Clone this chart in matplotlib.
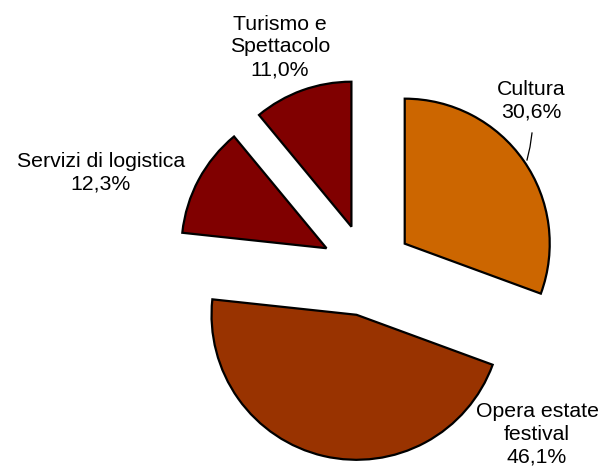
import matplotlib
matplotlib.use("Agg")
import matplotlib.pyplot as plt

# data
categories = ["Cultura", "Opera estate\nfestival", "Servizi di logistica", "Turismo e\nSpettacolo"]
shares = [30.6, 46.1, 12.3, 11.0]
colors = ["#CC6600", "#993300", "#800000", "#800000"]

# label anchor positions (pixel coords, y from top)
label_pos = [(531, 101), (537, 434), (101, 173), (280, 47)]

W, H = 602, 471
fig = plt.figure(figsize=(W / 100, H / 100), dpi=100)
ax = fig.add_axes([0, 0, 1, 1])

# explode is absolute (same units as radius)
ax.pie(shares, colors=colors, startangle=90, counterclock=False,
       center=(367, H - 270), radius=145, explode=[46] * 4,
       wedgeprops=dict(edgecolor="black", linewidth=1.6), frame=True)
ax.set_xlim(0, W)
ax.set_ylim(0, H)
ax.set_aspect("equal")
ax.axis("off")

for name, val, (x, y) in zip(categories, shares, label_pos):
    txt = f"{name}\n{val:.1f}%".replace(".", ",")
    ax.text(x, H - y, txt, ha="center", va="center", fontsize=15.3,
            family="Liberation Sans", linespacing=1.25)

# leader line for Cultura
ax.plot([532, 530, 527], [H - 133, H - 147, H - 160], color="black", lw=0.9)

fig.savefig("out.png", dpi=100)
